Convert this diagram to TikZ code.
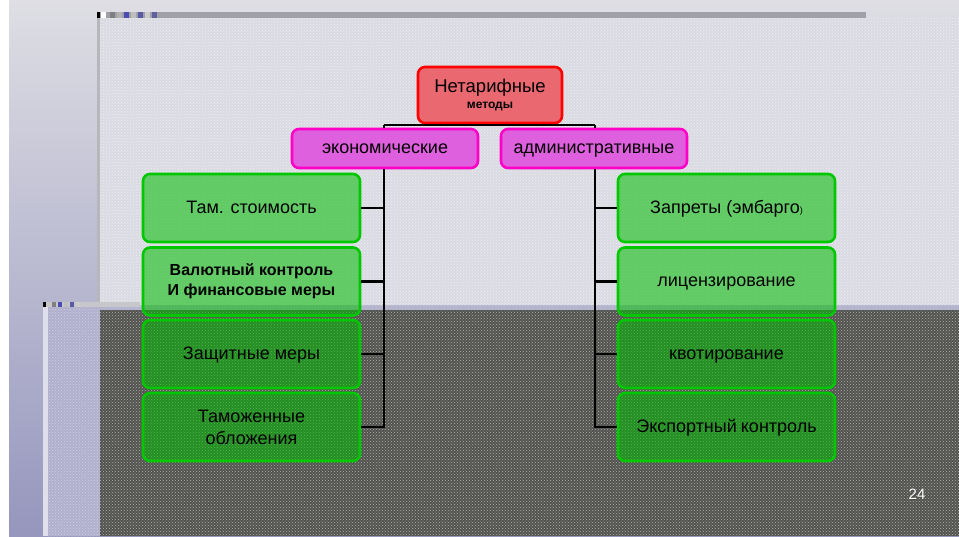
\documentclass[tikz,border=0pt]{standalone}
\usepackage{fontspec}
\setmainfont{Liberation Sans}
\usetikzlibrary{patterns}
\definecolor{bgtop}{RGB}{222,222,228}
\definecolor{bglav}{RGB}{150,150,190}
\definecolor{lightpat}{RGB}{218,218,226}
\definecolor{darkpat}{RGB}{82,82,78}
\definecolor{lavpat}{RGB}{176,176,206}
\definecolor{redfill}{RGB}{234,104,112}
\definecolor{redline}{RGB}{255,0,0}
\definecolor{magfill}{RGB}{222,96,222}
\definecolor{magline}{RGB}{255,0,200}
\definecolor{grnfill}{RGB}{0,190,0}
\definecolor{grnline}{RGB}{0,200,0}
\definecolor{barg}{RGB}{160,160,168}
\tikzset{
  box/.style={rounded corners=7pt, line width=2.6pt, align=center, inner sep=0pt},
  redbox/.style={box, draw=redline, fill=redfill, minimum width=144pt, minimum height=56pt, font=\fontsize{18.5}{16}\selectfont},
  magbox/.style={box, draw=magline, fill=magfill, minimum width=186pt, minimum height=39pt, font=\fontsize{18}{20}\selectfont, text height=13pt, text depth=3pt},
  grnbox/.style={box, draw=grnline, fill=grnfill, fill opacity=0.55, text opacity=1, minimum width=217pt, minimum height=68pt, font=\fontsize{18}{22}\selectfont, text height=13pt, text depth=3pt},
  multi/.style={text height=, text depth=},
  conn/.style={line width=2.6pt, black},
}
\begin{document}
\begin{tikzpicture}[x=1pt,y=-1pt]
\useasboundingbox (0,0) rectangle (959,536);
% background
\fill[white] (0,0) rectangle (959,536);
\shade[top color=bgtop, bottom color=bglav] (9,0) rectangle (959,536);
\fill[black!18!bgtop] (97,18) rectangle (100,305);
\fill[lightpat] (100,18) rectangle (959,305);
\fill[pattern=crosshatch dots, pattern color=white!55!lightpat] (100,18) rectangle (959,305);
\fill[lavpat] (43,305) rectangle (100,536);
\fill[pattern=crosshatch dots, pattern color=white!40!lavpat] (48,307) rectangle (100,536);
\fill[white!60!lavpat] (43,307) rectangle (48,536);
\fill[darkpat] (100,310) rectangle (959,536);
\fill[pattern=crosshatch dots, pattern color=white!55!darkpat] (100,310) rectangle (959,536);
% top decorative bar
\fill[barg] (97,12) rectangle (866,18);
\fill[black] (97,12) rectangle (100,18);
\fill[white] (101,12) rectangle (106,18);
\foreach \xx/\cc in {110/gray,117/gray!60,124/blue!40!gray,131/gray!50,138/blue!30!gray,145/gray!40,152/blue!25!gray}{
  \fill[\cc] (\xx,12) rectangle (\xx+5,18);}
% lower decorative bar
\fill[barg!60!white] (43,302) rectangle (140,307);
\fill[black] (43,302) rectangle (46,307);
\foreach \xx/\cc in {52/gray,58/blue!40!gray,64/gray!50,70/blue!30!gray,76/gray!40}{
  \fill[\cc] (\xx,302) rectangle (\xx+4,307);}
% nodes
\node[redbox] (top) at (490,95) {Нетарифные\\{\fontsize{12}{16}\selectfont\bfseries методы}};
\node[magbox] (eco) at (385,148.5) {экономические};
\node[magbox] (adm) at (594,148.5) {административные};
\coordinate (bl) at (384,125);
\coordinate (br) at (595,125);
\coordinate (vl) at (384,428);
\coordinate (vr) at (595,428);
\node[grnbox] (l1) at (251.5,208) {Там. стоимость};
\node[grnbox, multi, font=\fontsize{16}{20}\selectfont\bfseries] (l2) at (251.5,281.5) {Валютный контроль\\И финансовые меры};
\node[grnbox] (l3) at (251.5,354) {Защитные меры};
\node[grnbox, multi] (l4) at (251.5,427) {Таможенные\\обложения};
\node[grnbox] (r1) at (726.5,208) {Запреты (эмбарго{\fontsize{9}{10}\selectfont)}};
\node[grnbox] (r2) at (726.5,281.5) {лицензирование};
\node[grnbox] (r3) at (726.5,354) {квотирование};
\node[grnbox] (r4) at (726.5,427) {Экспортный\kern-1pt\ контроль};
% connectors
\draw[conn] (top.south) -- (top.south |- bl);
\draw[conn] (bl) -- (br);
\draw[conn] (eco.south -| bl) -- (vl);
\draw[conn] (adm.south -| br) -- (vr);
\foreach \n in {l1,l2,l3,l4}{\draw[conn] (\n.east) -- (\n.east -| vl);}
\foreach \n in {r1,r2,r3,r4}{\draw[conn] (\n.west) -- (\n.west -| vr);}
\draw[conn] (bl) -- (bl |- eco.north);
\draw[conn] (br) -- (br |- adm.north);
% page number
\node[text=black!70, font=\fontsize{15}{16}\selectfont] (pn0) at (917.8,494.8) {24};
\node[text=white, font=\fontsize{15}{16}\selectfont] (pn) at (917,494) {24};
\end{tikzpicture}
\end{document}
